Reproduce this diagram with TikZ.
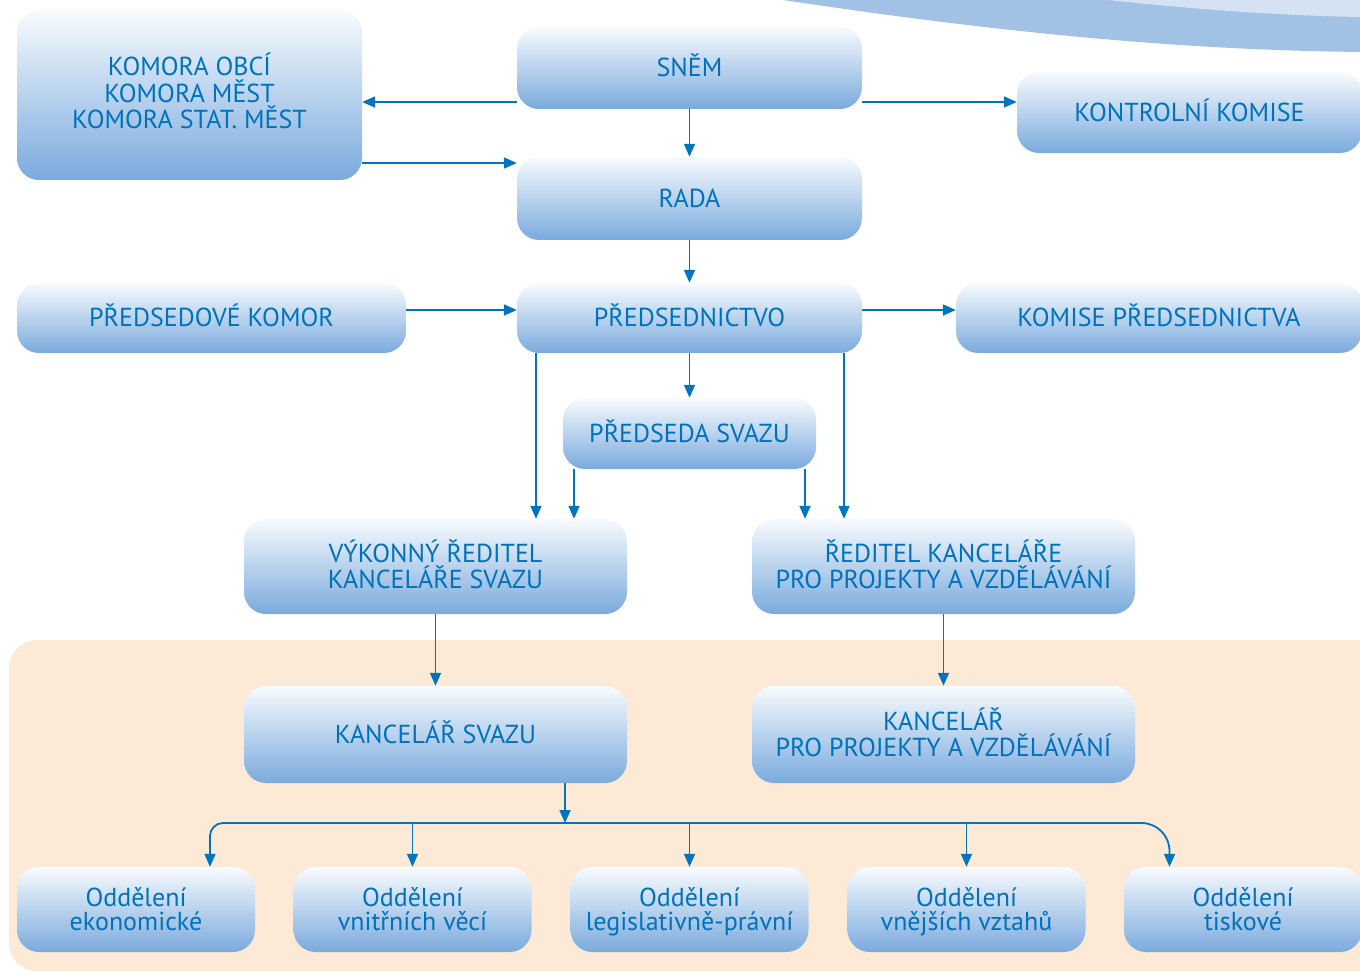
\documentclass[tikz,border=0pt]{standalone}
\usepackage{fontspec}
\setmainfont{PT Sans}
\usetikzlibrary{arrows.meta}
\definecolor{txt}{RGB}{0,114,188}
\definecolor{ln}{RGB}{0,117,190}
\definecolor{gtop}{RGB}{248,251,254}
\definecolor{gbot}{RGB}{122,170,221}
\definecolor{peach}{RGB}{253,234,214}
\definecolor{arcdark}{RGB}{162,194,229}
\definecolor{arclight}{RGB}{212,226,243}
\pgfdeclarelayer{back}\pgfdeclarelayer{edges}\pgfsetlayers{back,edges,main}
\begin{document}
\begin{tikzpicture}[x=1pt,y=-1pt,
 box/.style={rectangle, rounded corners=22pt, top color=gtop, bottom color=gbot, draw=none, text=txt, align=center, inner sep=0pt, font=\fontsize{26}{26.5}\selectfont, text height=18pt, text depth=0pt},
 two/.style={text height=44.5pt},
 three/.style={text height=68pt},
 dept/.style={box, minimum width=238pt, minimum height=85pt, font=\fontsize{26}{24}\selectfont, text height=42pt},
 arr/.style={draw=ln, line width=1.8pt, -{Triangle[length=13pt,width=11pt]}},
]
\useasboundingbox (0,0) rectangle (1360,973);

\node[box, three, minimum width=345pt, minimum height=170pt] (komora) at (189.5,95) {KOMORA OBCÍ\\KOMORA MĚST\\KOMORA STAT. MĚST};
\node[box, minimum width=345pt, minimum height=82pt] (snem) at (689.5,68) {SNĚM};
\node[box, minimum width=345pt, minimum height=81pt] (kk) at (1189.5,112.5) {KONTROLNÍ KOMISE};
\node[box, minimum width=345pt, minimum height=83pt] (rada) at (689.5,198.5) {RADA};
\node[box, minimum width=389pt, minimum height=70pt] (pk) at (211.5,318) {PŘEDSEDOVÉ KOMOR};
\node[box, minimum width=345pt, minimum height=70pt] (pred) at (689.5,318) {PŘEDSEDNICTVO};
\node[box, minimum width=406pt, minimum height=70pt] (kp) at (1159,318) {KOMISE PŘEDSEDNICTVA};
\node[box, minimum width=253pt, minimum height=71pt] (ps) at (689.5,433.5) {PŘEDSEDA SVAZU};
\node[box, two, minimum width=383pt, minimum height=95pt] (vr) at (435.5,566.5) {VÝKONNÝ ŘEDITEL\\KANCELÁŘE SVAZU};
\node[box, two, minimum width=383pt, minimum height=95pt] (rk) at (943.5,566.5) {ŘEDITEL KANCELÁŘE\\PRO PROJEKTY A VZDĚLÁVÁNÍ};
\node[box, minimum width=383pt, minimum height=97pt] (ks) at (435.5,734.5) {KANCELÁŘ SVAZU};
\node[box, two, minimum width=383pt, minimum height=97pt] (kpp) at (943.5,734.5) {KANCELÁŘ\\PRO PROJEKTY A VZDĚLÁVÁNÍ};
\node[dept] (o1) at (136,909.5) {Oddělení\\ekonomické};
\node[dept] (o2) at (412.5,909.5) {Oddělení\\vnitřních věcí};
\node[dept] (o3) at (689.5,909.5) {Oddělení\\legislativně-právní};
\node[dept] (o4) at (966.5,909.5) {Oddělení\\vnějších vztahů};
\node[dept] (o5) at (1243,909.5) {Oddělení\\tiskové};

\begin{pgfonlayer}{back}
\fill[arcdark] (783,0) .. controls (950,25) and (1150,50) .. (1362,52) -- (1362,-2) -- (783,-2) -- cycle;
\fill[arclight] (1108,0) .. controls (1200,10) and (1290,16) .. (1362,17) -- (1362,-2) -- (1108,-2) -- cycle;
\fill[peach, rounded corners=28pt] (9,640) rectangle (1390,971);
\end{pgfonlayer}

\begin{pgfonlayer}{edges}
\coordinate (a1) at ([yshift=-34pt]snem.west);
\draw[arr] (a1) -- (komora.east |- a1);
\draw[arr] (snem.east |- a1) -- (kk.west |- a1);
\draw[arr] (snem.south) -- (rada.north);
\coordinate (a2) at ([yshift=-68pt]komora.east);
\draw[arr] (a2) -- (rada.west |- a2);
\draw[arr] (rada.south) -- (pred.north);
\coordinate (a3) at ([yshift=8pt]pk.east);
\draw[arr] (a3) -- (pred.west |- a3);
\draw[arr] (pred.east |- a3) -- (kp.west |- a3);
\draw[arr] (pred.south) -- (ps.north);
\coordinate (v1) at ([xshift=-153.5pt]pred.south);
\draw[arr] (v1) -- (vr.north -| v1);
\coordinate (v2) at ([xshift=-115.5pt]ps.south);
\draw[arr] (v2) -- (vr.north -| v2);
\coordinate (v3) at ([xshift=115.5pt]ps.south);
\draw[arr] (v3) -- (rk.north -| v3);
\coordinate (v4) at ([xshift=154.5pt]pred.south);
\draw[arr] (v4) -- (rk.north -| v4);
\draw[arr] (vr.south) -- (ks.north);
\draw[arr] (rk.south) -- (kpp.north);
\coordinate (ksout) at ([xshift=129.5pt]ks.south);
\coordinate (busy) at (0,823);
\coordinate (bl) at ([xshift=74pt]o1.north);
\coordinate (br) at ([xshift=-73.5pt]o5.north);
\draw[arr] (ksout) -- (ksout |- busy);
\draw[arr, rounded corners=13pt] (ksout |- busy) -- (bl |- busy) -- (bl);
\draw[arr, rounded corners=28pt] (ksout |- busy) -- (br |- busy) -- (br);
\draw[arr] (o2.north |- busy) -- (o2.north);
\draw[arr] (o3.north |- busy) -- (o3.north);
\draw[arr] (o4.north |- busy) -- (o4.north);
\end{pgfonlayer}
\end{tikzpicture}
\end{document}
